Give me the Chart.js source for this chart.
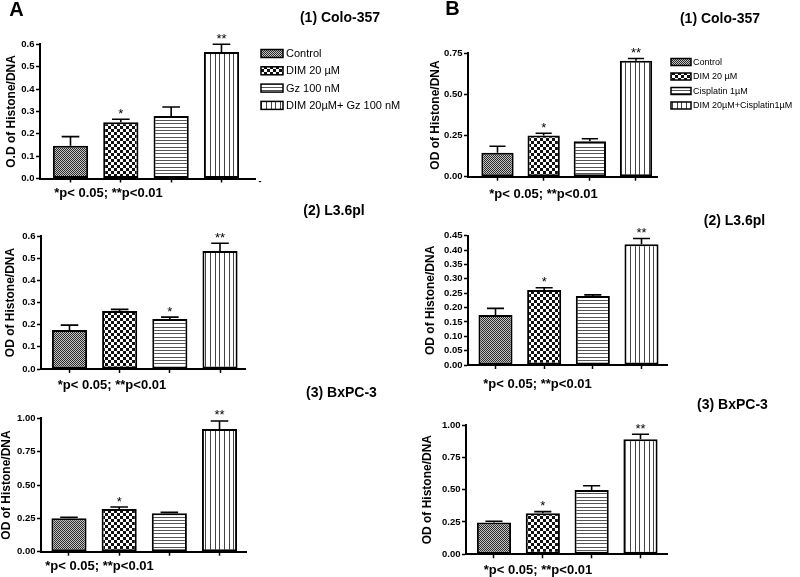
<!DOCTYPE html>
<html><head><meta charset="utf-8">
<script src="https://cdn.jsdelivr.net/npm/chart.js@4.4.0/dist/chart.umd.min.js"></script>
<style>
html,body{margin:0;padding:0;background:#fff;}
#wrap{position:relative;width:800px;height:577px;overflow:hidden;background:#fff;}
#wrap canvas{position:absolute;left:0;top:0;}
</style>
</head><body><div id="wrap"></div>
<script>
// ---------- data ----------
const groupsA = ['Control', 'DIM 20 µM', 'Gz 100 nM', 'DIM 20µM+ Gz 100 nM'];
const groupsB = ['Control', 'DIM 20 µM', 'Cisplatin 1µM', 'DIM 20µM+Cisplatin1µM'];

// Panel A (1) Colo-357
const a1Mean = [0.146, 0.251, 0.279, 0.566];
const a1Sem  = [0.041, 0.014, 0.041, 0.034];
const a1Sig  = ['', '*', '', '**'];
const a1Ticks = ['0.0','0.1','0.2','0.3','0.4','0.5','0.6'];
// Panel A (2) L3.6pl
const a2Mean = [0.176, 0.262, 0.226, 0.532];
const a2Sem  = [0.022, 0.007, 0.008, 0.035];
const a2Sig  = ['', '', '*', '**'];
const a2Ticks = ['0.0','0.1','0.2','0.3','0.4','0.5','0.6'];
// Panel A (3) BxPC-3
const a3Mean = [0.250, 0.320, 0.288, 0.920];
const a3Sem  = [0.008, 0.015, 0.007, 0.060];
const a3Sig  = ['', '*', '', '**'];
const a3Ticks = ['0.00','0.25','0.50','0.75','1.00'];
// Panel B (1) Colo-357
const b1Mean = [0.146, 0.250, 0.215, 0.704];
const b1Sem  = [0.039, 0.014, 0.016, 0.014];
const b1Sig  = ['', '*', '', '**'];
const b1Ticks = ['0.00','0.25','0.50','0.75'];
// Panel B (2) L3.6pl
const b2Mean = [0.174, 0.261, 0.240, 0.420];
const b2Sem  = [0.023, 0.008, 0.004, 0.020];
const b2Sig  = ['', '*', '', '**'];
const b2Ticks = ['0.00','0.05','0.10','0.15','0.20','0.25','0.30','0.35','0.40','0.45'];
// Panel B (3) BxPC-3
const b3Mean = [0.245, 0.317, 0.497, 0.889];
const b3Sem  = [0.011, 0.013, 0.033, 0.039];
const b3Sig  = ['', '*', '', '**'];
const b3Ticks = ['0.00','0.25','0.50','0.75','1.00'];

const noteText = '*p< 0.05; **p<0.01';

// ---------- styling / layout ----------
const FAM = "'Liberation Sans', Arial, Helvetica, sans-serif";
Chart.defaults.color = '#000';
Chart.defaults.font.family = FAM;
const XH = 8;

function makeTile(kind) {
  const c = document.createElement('canvas');
  const g = c.getContext('2d');
  if (kind === 0) { // fine dark dither
    c.width = 2; c.height = 2;
    g.fillStyle = '#c4c4c4'; g.fillRect(0,0,2,2);
    g.fillStyle = '#2a2a2a'; g.fillRect(0,0,1,1); g.fillRect(1,1,1,1);
  } else if (kind === 1) { // coarse checker
    c.width = 6; c.height = 6;
    g.fillStyle = '#fff'; g.fillRect(0,0,6,6);
    g.fillStyle = '#111'; g.fillRect(0,0,3,3); g.fillRect(3,3,3,3);
  } else if (kind === 2) { // horizontal lines
    c.width = 4; c.height = 10;
    g.fillStyle = '#fff'; g.fillRect(0,0,4,10);
    g.fillStyle = '#555'; g.fillRect(0,0,4,1); g.fillRect(0,3,4,1); g.fillRect(0,7,4,1);
  } else { // vertical lines
    c.width = 14; c.height = 4;
    g.fillStyle = '#fff'; g.fillRect(0,0,14,4);
    g.fillStyle = '#444'; g.fillRect(0,0,1,4); g.fillRect(5,0,1,4); g.fillRect(9,0,1,4);
  }
  return c;
}

const panels = [
  {mean:a1Mean, sem:a1Sem, sig:a1Sig, ticks:a1Ticks, groups:groupsA, yTitle:'O.D of Histone/DNA',
   title:'(1) Colo-357', L:{titleX:11.5, axisX:40, right:255, top:44.3, bottom:178.5, xmin:-0.606, xmax:3.666},
   tPos:[340,18.5], nPos:[108.5,193.5], letter:['A',16.5,10],
   legend:{x:261, y:53.5, step:17.3, bw:22, bh:8, size:11, gap:3}, extra:['-',260,182]},
  {mean:a2Mean, sem:a2Sem, sig:a2Sig, ticks:a2Ticks, groups:groupsA, yTitle:'OD of Histone/DNA',
   title:'(2) L3.6pl', L:{titleX:11, axisX:41, right:245, top:236, bottom:369, xmin:-0.568, xmax:3.498},
   tPos:[334,211.5], nPos:[112,385]},
  {mean:a3Mean, sem:a3Sem, sig:a3Sig, ticks:a3Ticks, groups:groupsA, yTitle:'OD of Histone/DNA',
   title:'(3) BxPC-3', L:{titleX:6.5, axisX:41, right:246, top:418.3, bottom:551.7, xmin:-0.558, xmax:3.528},
   tPos:[341.5,393.5], nPos:[99.5,566]},
  {mean:b1Mean, sem:b1Sem, sig:b1Sig, ticks:b1Ticks, groups:groupsB, yTitle:'OD of Histone/DNA',
   title:'(1) Colo-357', L:{titleX:435.5, axisX:468, right:657, top:53.3, bottom:176.7, xmin:-0.639, xmax:3.455},
   tPos:[720,19], nPos:[543.5,194], letter:['B',452.5,9.5],
   legend:{x:671, y:62, step:14.5, bw:20, bh:7, size:9, gap:2}},
  {mean:b2Mean, sem:b2Sem, sig:b2Sig, ticks:b2Ticks, groups:groupsB, yTitle:'OD of Histone/DNA',
   title:'(2) L3.6pl', L:{titleX:431, axisX:468, right:667, top:235.7, bottom:365, xmin:-0.565, xmax:3.524},
   tPos:[734.5,221.5], nPos:[537.5,384]},
  {mean:b3Mean, sem:b3Sem, sig:b3Sig, ticks:b3Ticks, groups:groupsB, yTitle:'OD of Histone/DNA',
   title:'(3) BxPC-3', L:{titleX:427.5, axisX:466, right:667, top:425, bottom:554.3, xmin:-0.573, xmax:3.543},
   tPos:[732.5,405.5], nPos:[538,570]}
];

const wrap = document.getElementById('wrap');

function makeChart(p) {
  const cv = document.createElement('canvas');
  cv.width = 800; cv.height = 577;
  cv.style.width = '800px'; cv.style.height = '577px';
  wrap.appendChild(cv);
  const ctx0 = cv.getContext('2d');
  const pats = [0,1,2,3].map(k => ctx0.createPattern(makeTile(k), 'repeat'));
  const tickVals = p.ticks.map(parseFloat);
  const yMax = tickVals[tickVals.length - 1];
  const L = p.L;
  const scaleLeft = Math.max(0, L.titleX - 6);

  const overlay = {
    id: 'overlay' ,
    afterDatasetsDraw(chart) {
      const ctx = chart.ctx, ys = chart.scales.y, meta = chart.getDatasetMeta(0);
      ctx.save();
      ctx.strokeStyle = '#000'; ctx.lineWidth = 1.6; ctx.fillStyle = '#000';
      meta.data.forEach((bar, i) => {
        const top = ys.getPixelForValue(p.mean[i] + p.sem[i]);
        const half = bar.width / 4;
        ctx.beginPath();
        ctx.moveTo(bar.x, bar.y); ctx.lineTo(bar.x, top);
        ctx.moveTo(bar.x - half, top); ctx.lineTo(bar.x + half, top);
        ctx.stroke();
        if (p.sig[i]) {
          ctx.font = '13px ' + FAM;
          ctx.textAlign = 'center'; ctx.textBaseline = 'alphabetic';
          ctx.fillText(p.sig[i], bar.x, top - 1.5);
        }
      });
      ctx.restore();
    },
    afterDraw(chart) {
      const ctx = chart.ctx;
      ctx.save();
      ctx.fillStyle = '#000';
      ctx.textBaseline = 'middle';
      ctx.textAlign = 'center';
      ctx.font = 'bold 14px ' + FAM;
      ctx.fillText(p.title, p.tPos[0], p.tPos[1]);
      ctx.font = 'bold 13px ' + FAM;
      ctx.fillText(noteText, p.nPos[0], p.nPos[1]);
      if (p.letter) {
        ctx.font = 'bold 20px ' + FAM;
        ctx.fillText(p.letter[0], p.letter[1], p.letter[2]);
      }
      if (p.extra) {
        ctx.font = 'bold 9px ' + FAM;
        ctx.fillText(p.extra[0], p.extra[1], p.extra[2]);
      }
      if (p.legend) {
        const lg = p.legend;
        ctx.textAlign = 'left';
        ctx.font = lg.size + 'px ' + FAM;
        p.groups.forEach((g, i) => {
          const cy = lg.y + i * lg.step;
          ctx.fillStyle = pats[i];
          ctx.fillRect(lg.x, cy - lg.bh / 2, lg.bw, lg.bh);
          ctx.strokeStyle = '#000'; ctx.lineWidth = 1.5;
          ctx.strokeRect(lg.x, cy - lg.bh / 2, lg.bw, lg.bh);
          ctx.fillStyle = '#000';
          ctx.fillText(g, lg.x + lg.bw + lg.gap, cy + 0.5);
        });
      }
      ctx.restore();
    }
  };

  return new Chart(cv, {
    type: 'bar',
    data: {
      datasets: [{
        label: p.title,
        data: p.mean.map((v, i) => ({x: i, y: v})),
        backgroundColor: pats,
        borderColor: '#000',
        borderWidth: 2,
        borderSkipped: false,
        barPercentage: 0.7,
        categoryPercentage: 1,
        grouped: false
      }]
    },
    options: {
      responsive: false,
      animation: false,
      devicePixelRatio: 1,
      events: [],
      layout: {padding: {left: scaleLeft, top: L.top, right: 800 - L.right, bottom: 577 - L.bottom - XH}},
      plugins: {legend: {display: false}, tooltip: {enabled: false}, title: {display: false}},
      scales: {
        x: {
          type: 'linear', min: L.xmin, max: L.xmax, offset: false,
          afterBuildTicks: s => { s.ticks = p.mean.map((_, i) => ({value: i})); },
          ticks: {callback: () => '', padding: 0, autoSkip: false},
          grid: {display: true, offset: false, drawOnChartArea: false, drawTicks: true, tickLength: 4, tickColor: '#000', tickWidth: 1.5},
          border: {display: true, color: '#000', width: 2},
          afterFit: s => { s.height = XH; }
        },
        y: {
          min: 0, max: yMax,
          afterBuildTicks: s => { s.ticks = tickVals.map(v => ({value: v})); },
          ticks: {callback: (v, i) => p.ticks[i], font: {family: FAM, size: 9.5, weight: 'bold'}, color: '#000', padding: 1.5, autoSkip: false},
          grid: {display: true, drawOnChartArea: false, drawTicks: true, tickLength: 4, tickColor: '#000', tickWidth: 1.5},
          border: {display: true, color: '#000', width: 2},
          title: {display: true, text: p.yTitle, color: '#000', font: {family: FAM, size: 12, weight: 'bold', lineHeight: 1}, padding: {top: 0, bottom: 0}},
          afterFit: s => { s.width = L.axisX - scaleLeft; }
        }
      }
    },
    plugins: [overlay]
  });
}

panels.forEach(makeChart);
</script>
</body></html>
